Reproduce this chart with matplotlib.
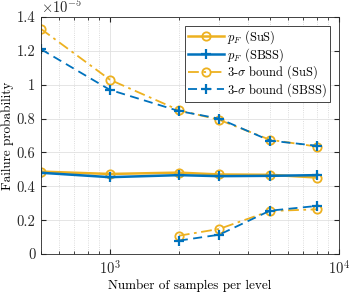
import numpy as np
import matplotlib
matplotlib.use("Agg")
import matplotlib.pyplot as plt
from matplotlib.ticker import FixedLocator, FuncFormatter

plt.rcParams['font.family'] = 'cmr10'
plt.rcParams['mathtext.fontset'] = 'cm'
plt.rcParams['axes.formatter.use_mathtext'] = True

n_samples = [500, 1000, 2000, 3000, 5000, 8000]
n_lower = [2000, 3000, 5000, 8000]

pf_sus = [0.487, 0.473, 0.481, 0.470, 0.468, 0.452]
pf_sbss = [0.480, 0.454, 0.466, 0.460, 0.462, 0.466]
up_sus = [1.33, 1.03, 0.850, 0.793, 0.675, 0.635]
up_sbss = [1.21, 0.97, 0.845, 0.800, 0.670, 0.640]
lo_sus = [0.108, 0.148, 0.254, 0.264]
lo_sbss = [0.079, 0.114, 0.256, 0.284]

orange = '#EDB120'
blue = '#0072BD'

fig = plt.figure(figsize=(3.49, 2.95), dpi=100)
ax = fig.add_axes([0.1175, 0.139, 0.8535, 0.803])

l1, = ax.plot(n_samples, pf_sus, '-o', color=orange, lw=1.8, ms=6, mfc='none', mew=1.3,
              label=r'$p_F$ (SuS)')
l2, = ax.plot(n_samples, pf_sbss, '-+', color=blue, lw=1.8, ms=7, mew=1.6,
              label=r'$p_F$ (SBSS)')
l3, = ax.plot(n_samples, up_sus, '-.o', color=orange, lw=1.3, ms=6, mfc='none', mew=1.3,
              dashes=(6, 2.5, 1.5, 2.5), label=r'3-$\sigma$ bound (SuS)')
l4, = ax.plot(n_samples, up_sbss, '--+', color=blue, lw=1.3, ms=7, mew=1.6,
              dashes=(5, 3), label=r'3-$\sigma$ bound (SBSS)')
ax.plot(n_lower, lo_sus, '-.o', color=orange, lw=1.3, ms=6, mfc='none', mew=1.3,
        dashes=(6, 2.5, 1.5, 2.5))
ax.plot(n_lower, lo_sbss, '--+', color=blue, lw=1.3, ms=7, mew=1.6, dashes=(5, 3))

ax.set_xscale('log')
ax.set_xlim(500, 10000)
ax.set_ylim(0, 1.4)
ax.yaxis.set_major_locator(FixedLocator([0, 0.2, 0.4, 0.6, 0.8, 1.0, 1.2, 1.4]))
ax.yaxis.set_major_formatter(FuncFormatter(lambda v, p: ('%g' % round(v, 1))))

ax.grid(True, which='major', color='#e0e0e0', lw=0.6)
ax.grid(True, which='minor', axis='x', color='#d0d0d0', lw=0.6, ls=':')
ax.set_axisbelow(True)
ax.tick_params(which='both', direction='in', labelsize=10.5, top=True, right=True,
               colors='#262626', pad=4)
ax.tick_params(which='minor', length=2)
for s in ax.spines.values():
    s.set_color('#262626')
    s.set_linewidth(0.6)

ax.text(0.0, 1.005, r'$\times10^{-5}$', transform=ax.transAxes, fontsize=10.5,
        ha='left', va='bottom', color='#262626')

ax.set_xlabel('Number of samples per level', fontsize=9.5, labelpad=1)
ax.set_ylabel('Failure probability', fontsize=9.5, labelpad=2)

leg = ax.legend(handles=[l1, l2, l3, l4], loc='upper right', fontsize=9,
                bbox_to_anchor=(0.978, 0.975), fancybox=False, framealpha=1,
                edgecolor='#262626', handlelength=2.9, handletextpad=0.25,
                borderpad=0.2, labelspacing=0.0, borderaxespad=0.2,
                handleheight=0.6)
leg.get_frame().set_linewidth(0.6)

fig.savefig('out.png', dpi=100)
